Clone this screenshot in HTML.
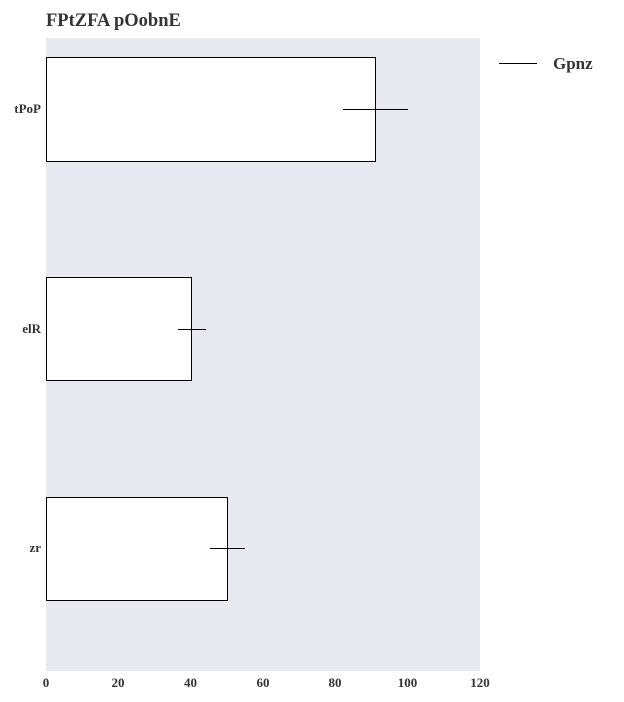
<!DOCTYPE html>
<html><head><meta charset="utf-8"><style>
html,body{margin:0;padding:0;background:#fff;}
svg{display:block;font-family:"Liberation Serif",serif;}
</style></head><body>
<svg width="624" height="702" viewBox="0 0 624 702" xmlns="http://www.w3.org/2000/svg">
<text x="46" y="26" font-size="18.5" font-weight="bold" fill="#333">FPtZFA pOobnE</text>
<rect x="46" y="38" width="434" height="633" fill="#e8e8f1"/>
<g fill="#fff" stroke="#000" stroke-width="1">
<rect x="46.5" y="57.5" width="329" height="104"/>
<rect x="46.5" y="277.5" width="145" height="103"/>
<rect x="46.5" y="497.5" width="181" height="103"/>
</g>
<g stroke="#000" stroke-width="1">
<line x1="343" y1="109.5" x2="408" y2="109.5"/>
<line x1="178" y1="329.5" x2="206" y2="329.5"/>
<line x1="210" y1="548.5" x2="245" y2="548.5"/>
<line x1="499" y1="63.5" x2="537" y2="63.5"/>
</g>
<g font-size="13" font-weight="bold" fill="#333" text-anchor="end">
<text x="41" y="113">tPoP</text>
<text x="41" y="333">elR</text>
<text x="41" y="552">zr</text>
</g>
<g font-size="13" font-weight="bold" fill="#333" text-anchor="middle">
<text x="46" y="687">0</text>
<text x="118" y="687">20</text>
<text x="190.5" y="687">40</text>
<text x="263" y="687">60</text>
<text x="335" y="687">80</text>
<text x="407.5" y="687">100</text>
<text x="480" y="687">120</text>
</g>
<text x="553" y="69" font-size="17" font-weight="bold" fill="#333">Gpnz</text>
</svg>
</body></html>
